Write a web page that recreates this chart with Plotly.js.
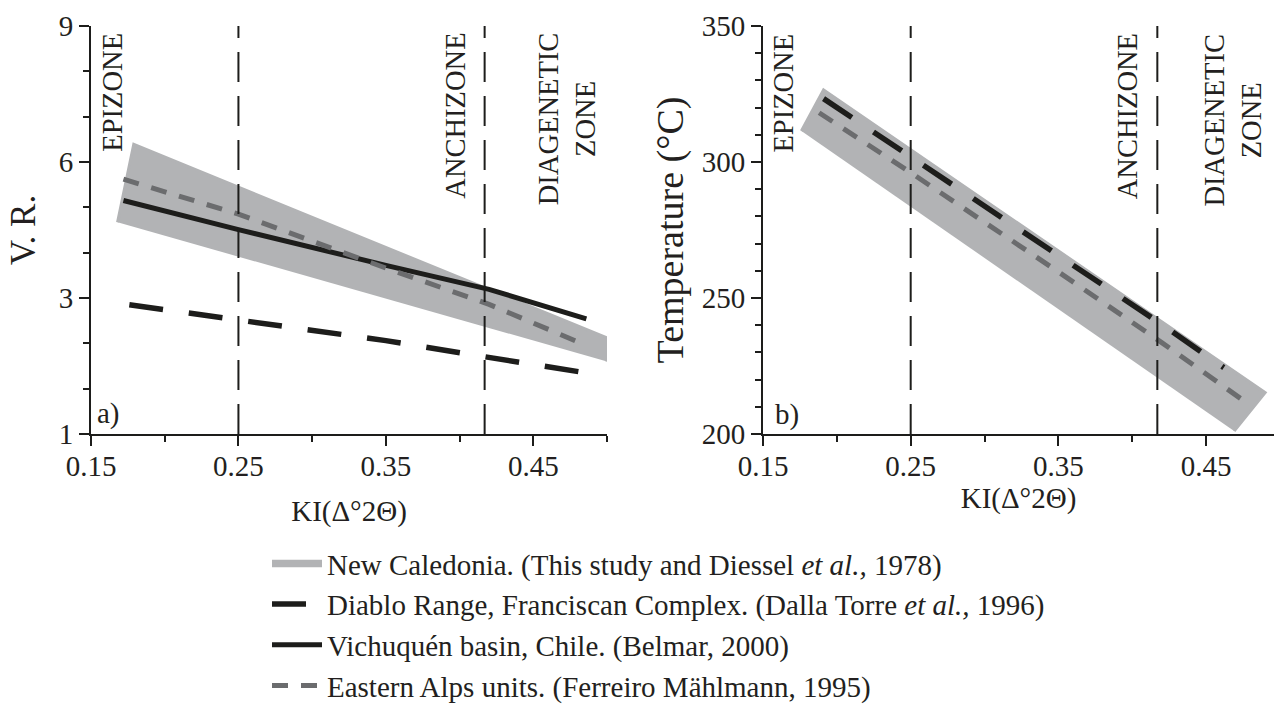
<!DOCTYPE html>
<html>
<head>
<meta charset="utf-8">
<script src="https://cdn.plot.ly/plotly-3.0.1.min.js"></script>
<style>html,body{margin:0;padding:0;background:#fff;}#chart{width:1274px;height:708px;}</style>
</head>
<body>
<div id="chart"></div>
<script>
// ---------- data ----------
// Panel a) : V.R. vs KI  (vertical axis in plotted units; bottom tick labelled "1")
const bandA_x = [0.168, 0.179, 0.500, 0.500];
const bandA_y = [4.67, 6.39, 2.12, 1.60];
const diabloA_x = [0.176, 0.25, 0.35, 0.416, 0.497];
const diabloA_y = [2.85, 2.52, 2.06, 1.71, 1.29];
const vichuquenA_x = [0.172, 0.25, 0.35, 0.42, 0.486];
const vichuquenA_y = [5.15, 4.51, 3.72, 3.19, 2.54];
const alpsA_x = [0.172, 0.25, 0.35, 0.42, 0.479];
const alpsA_y = [5.62, 4.85, 3.66, 2.86, 2.05];

// Panel b) : Temperature vs KI
const bandB_x = [0.176, 0.191, 0.490, 0.469];
const bandB_y = [311.4, 326.5, 215.2, 201.1];
const diabloB_x = [0.191, 0.25, 0.35, 0.42, 0.462];
const diabloB_y = [323.3, 302.0, 265.4, 240.3, 224.4];
const alpsB_x = [0.188, 0.25, 0.35, 0.42, 0.479];
const alpsB_y = [318.1, 296.1, 259.6, 233.6, 210.9];

// zone boundaries (KI)
const zoneBounds = [0.25, 0.417];
const zoneNames = ["EPIZONE", "ANCHIZONE", "DIAGENETIC<br>ZONE"];
const zoneLabelXa = [0.164, 0.397, 0.473];
const zoneLabelXb = [0.164, 0.397, 0.468];

// axes ticks
const xTickVals = [0.15, 0.25, 0.35, 0.45];
const xTickText = ["0.15", "0.25", "0.35", "0.45"];
const vrTickVals = [0, 3, 6, 9];
const vrTickText = ["1", "3", "6", "9"];
const vrMinorVals = [1, 2, 4, 5, 7, 8];
const tTickVals = [200, 250, 300, 350];

const seriesNames = [
  "New Caledonia. (This study and Diessel <i>et al.,</i> 1978)",
  "Diablo Range, Franciscan Complex. (Dalla Torre <i>et al.,</i> 1996)",
  "Vichuquén basin, Chile. (Belmar, 2000)",
  "Eastern Alps units. (Ferreiro Mählmann, 1995)"
];

// ---------- styles ----------
const BAND = "#b2b3b5";
const BLACK = "#1d1d1b";
const GREY = "#6b6c6e";
const TXT = "#231f20";
const FONT = "Liberation Serif";

function band(x, y, xa, ya, show) {
  return {x: x, y: y, xaxis: xa, yaxis: ya, mode: "lines", fill: "toself",
    fillcolor: BAND, line: {color: BAND, width: 3}, name: seriesNames[0],
    legendgroup: "g0", showlegend: show, hoverinfo: "skip"};
}
function diablo(x, y, xa, ya, show) {
  return {x: x, y: y, xaxis: xa, yaxis: ya, mode: "lines",
    line: {color: BLACK, width: 5.5, dash: "34px,26px"}, name: seriesNames[1],
    legendgroup: "g1", showlegend: show};
}
function vich(x, y, xa, ya, show) {
  return {x: x, y: y, xaxis: xa, yaxis: ya, mode: "lines",
    line: {color: BLACK, width: 5}, name: seriesNames[2],
    legendgroup: "g2", showlegend: show};
}
function alps(x, y, xa, ya, show) {
  return {x: x, y: y, xaxis: xa, yaxis: ya, mode: "lines",
    line: {color: GREY, width: 5, dash: "16px,13px"}, name: seriesNames[3],
    legendgroup: "g3", showlegend: show};
}

const traces = [
  band(bandA_x, bandA_y, "x", "y", true),
  diablo(diabloA_x, diabloA_y, "x", "y", true),
  vich(vichuquenA_x, vichuquenA_y, "x", "y", true),
  alps(alpsA_x, alpsA_y, "x", "y", true),
  band(bandB_x, bandB_y, "x2", "y2", false),
  diablo(diabloB_x, diabloB_y, "x2", "y2", false),
  alps(alpsB_x, alpsB_y, "x2", "y2", false)
];

const W = 1274, H = 708;
const yDom = [1 - 434 / H, 1 - 26 / H];

const axisCommon = {
  showgrid: false, zeroline: false, showline: true, linecolor: BLACK, linewidth: 2,
  ticks: "outside", ticklen: 10, tickwidth: 2, tickcolor: BLACK,
  tickfont: {family: FONT, size: 29, color: TXT}
};
const minorX = {tickmode: "linear", tick0: 0.15, dtick: 0.05, ticks: "outside", ticklen: 6, tickwidth: 2, tickcolor: BLACK};

const shapes = [];
zoneBounds.forEach(function (b) {
  shapes.push({type: "line", xref: "x", yref: "y", x0: b, x1: b, y0: 0, y1: 9,
    line: {color: BLACK, width: 2, dash: "30px,14px"}});
  shapes.push({type: "line", xref: "x2", yref: "y2", x0: b, x1: b, y0: 200, y1: 350,
    line: {color: BLACK, width: 2, dash: "30px,14px"}});
});

const annotations = [];
zoneNames.forEach(function (n, i) {
  annotations.push({xref: "x", yref: "y", x: zoneLabelXa[i], y: 8.9, text: n, textangle: -90,
    showarrow: false, xanchor: "center", yanchor: "top", align: "center",
    font: {family: FONT, size: 28.5, color: TXT}});
  annotations.push({xref: "x2", yref: "y2", x: zoneLabelXb[i], y: 348, text: n, textangle: -90,
    showarrow: false, xanchor: "center", yanchor: "top", align: "center",
    font: {family: FONT, size: 28.5, color: TXT}});
});
annotations.push({xref: "x", yref: "y", x: 0.153, y: 0.45, text: "a)", showarrow: false,
  xanchor: "left", yanchor: "middle", font: {family: FONT, size: 29, color: TXT}});
annotations.push({xref: "x2", yref: "y2", x: 0.157, y: 207, text: "b)", showarrow: false,
  xanchor: "left", yanchor: "middle", font: {family: FONT, size: 29, color: TXT}});

const layout = {
  width: W, height: H,
  margin: {l: 0, r: 0, t: 0, b: 0, autoexpand: false},
  paper_bgcolor: "#fff", plot_bgcolor: "rgba(0,0,0,0)",
  font: {family: FONT, color: TXT},
  showlegend: true,
  legend: {x: 267 / W, xanchor: "left", y: 1 - 538 / H, yanchor: "top",
    font: {family: FONT, size: 29, color: TXT}, itemwidth: 50,
    bgcolor: "rgba(0,0,0,0)", tracegroupgap: 0, traceorder: "normal"},
  xaxis: Object.assign({}, axisCommon, {
    domain: [91 / W, 607 / W], range: [0.15, 0.50], anchor: "y",
    tickmode: "array", tickvals: xTickVals, ticktext: xTickText, ticklabelstandoff: -5,
    minor: minorX, automargin: false,
    title: {text: "KI(Δ°2Θ)", font: {family: FONT, size: 29, color: TXT}, standoff: 20}
  }),
  yaxis: Object.assign({}, axisCommon, {
    domain: yDom, range: [0, 9], anchor: "x", automargin: false,
    tickmode: "array", tickvals: vrTickVals, ticktext: vrTickText,
    minor: {tickmode: "array", tickvals: vrMinorVals, ticks: "outside", ticklen: 6, tickwidth: 2, tickcolor: BLACK},
    title: {text: "V. R.", font: {family: FONT, size: 35, color: TXT}, standoff: 12}
  }),
  xaxis2: Object.assign({}, axisCommon, {
    domain: [763 / W, 1], range: [0.15, 0.496], anchor: "y2", automargin: false,
    tickmode: "array", tickvals: xTickVals, ticktext: xTickText, ticklabelstandoff: -5,
    minor: minorX,
    title: {text: "KI(Δ°2Θ)", font: {family: FONT, size: 29, color: TXT}, standoff: 2}
  }),
  yaxis2: Object.assign({}, axisCommon, {
    domain: yDom, range: [200, 350], anchor: "x2", automargin: false,
    tickmode: "array", tickvals: tTickVals,
    minor: {tickmode: "linear", tick0: 200, dtick: 10, ticks: "outside", ticklen: 6, tickwidth: 2, tickcolor: BLACK},
    title: {text: "Temperature (°C)", font: {family: FONT, size: 38, color: TXT}, standoff: 6}
  }),
  shapes: shapes,
  annotations: annotations
};

Plotly.newPlot("chart", traces, layout, {staticPlot: true, displayModeBar: false});
</script>
</body>
</html>
